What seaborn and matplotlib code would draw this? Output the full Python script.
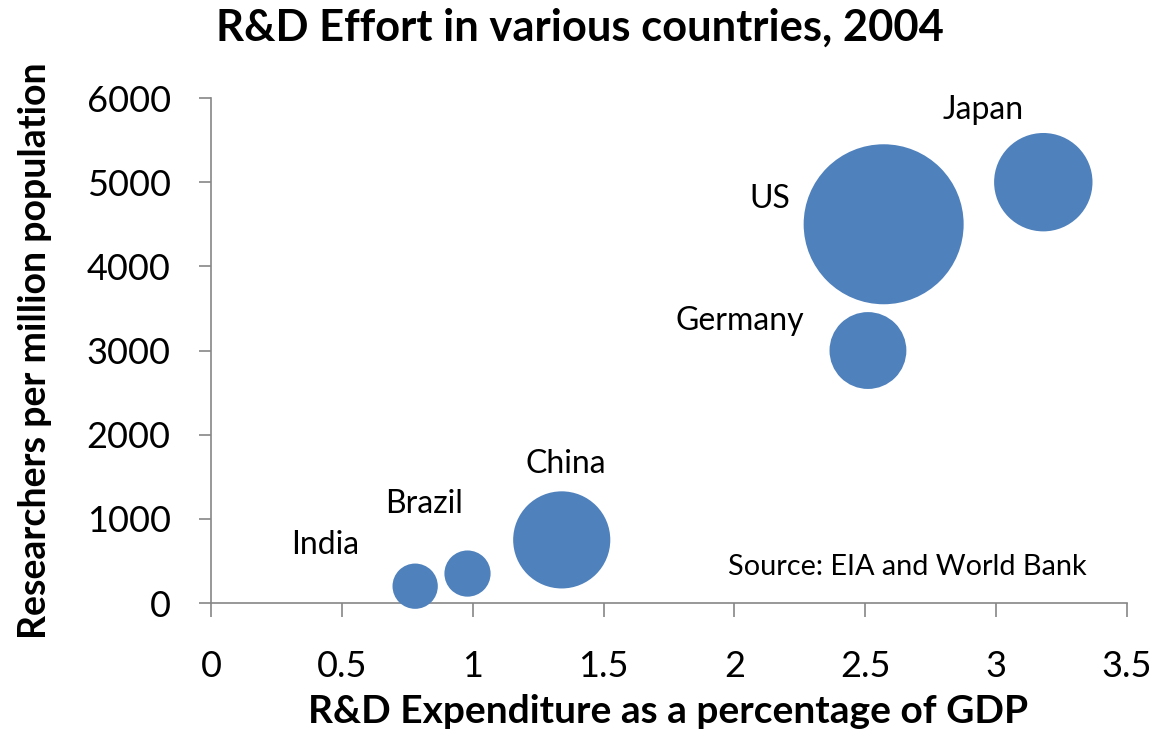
import matplotlib
matplotlib.use("Agg")
import matplotlib.pyplot as plt
import seaborn as sns
import pandas as pd

# R&D effort by country, 2004
countries = ["India", "Brazil", "China", "Germany", "US", "Japan"]
rd_pct_gdp = [0.78, 0.98, 1.34, 2.51, 2.57, 3.18]
researchers_per_million = [200, 350, 750, 3000, 4500, 5000]
rd_spend = [25, 26, 115, 72, 312, 118]  # bubble size (area)

x_ticks = [0, 0.5, 1, 1.5, 2, 2.5, 3, 3.5]
x_tick_labels = ["0", "0.5", "1", "1.5", "2", "2.5", "3", "3.5"]
y_ticks = [0, 1000, 2000, 3000, 4000, 5000, 6000]

df = pd.DataFrame({
    "country": countries,
    "pct": rd_pct_gdp,
    "researchers": researchers_per_million,
    "spend": rd_spend,
})

# label offsets from bubble centres, in points
label_offsets = {
    "India": (-65, 30),
    "Brazil": (-31, 50),
    "China": (3, 55),
    "Germany": (-92, 21),
    "US": (-82, 18),
    "Japan": (-43, 52),
}

sns.set_theme(style="white")
plt.rcParams["font.family"] = ["Lato", "DejaVu Sans"]
plt.rcParams["text.color"] = "black"
plt.rcParams["axes.labelcolor"] = "black"

fig = plt.figure(figsize=(11.55, 7.32), dpi=100)
ax = fig.add_axes([0.1827, 0.1762, 0.7931, 0.6899])

bubble_color = "#4F81BD"
max_area = (160 * 0.72) ** 2
sns.scatterplot(
    data=df, x="pct", y="researchers", size="spend",
    sizes=(0, max_area), size_norm=(0, max(rd_spend)),
    color=bubble_color, linewidth=0, alpha=1, legend=False,
    clip_on=False, zorder=3, ax=ax,
)

for _, row in df.iterrows():
    dx, dy = label_offsets[row["country"]]
    ax.annotate(row["country"], (row["pct"], row["researchers"]),
                xytext=(dx, dy), textcoords="offset points",
                ha="center", va="center", fontsize=23, color="black")

ax.set_xlim(0, 3.5)
ax.set_ylim(0, 6000)
ax.set_xticks(x_ticks)
ax.set_xticklabels(x_tick_labels)
ax.set_yticks(y_ticks)

spine_color = "#868686"
for side in ["top", "right"]:
    ax.spines[side].set_visible(False)
for side in ["left", "bottom"]:
    ax.spines[side].set_color(spine_color)
    ax.spines[side].set_linewidth(1.2)

ax.tick_params(axis="x", direction="out", length=10, width=1.2,
               color=spine_color, pad=24, labelsize=26, labelcolor="black")
ax.tick_params(axis="y", direction="out", length=9, width=1.2,
               color=spine_color, pad=20, labelsize=26, labelcolor="black")
ax.tick_params(bottom=True, left=True)

ax.set_xlabel("R&D Expenditure as a percentage of GDP", fontsize=28,
              fontweight="bold", va="center")
ax.set_ylabel("Researchers per million population", fontsize=27,
              fontweight="bold", va="center")
ax.xaxis.set_label_coords(0.499, -0.214)
ax.yaxis.set_label_coords(-0.192, 0.5)

fig.text(0.502, 0.962, "R&D Effort in various countries, 2004", ha="center",
         va="center", fontsize=31.3, fontweight="bold")

ax.text(0.564, 0.071, "Source: EIA and World Bank", transform=ax.transAxes,
        ha="left", va="center", fontsize=20.8)

fig.savefig("out.png", dpi=100)
